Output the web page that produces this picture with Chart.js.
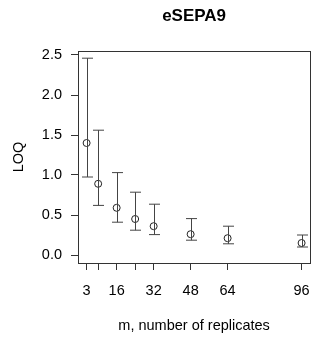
<!DOCTYPE html>
<html>
<head>
<meta charset="utf-8">
<script src="https://cdn.jsdelivr.net/npm/chart.js@4"></script>
<style>
  html, body { margin: 0; padding: 0; background: #fff; }
  #wrap { width: 322px; height: 339px; }
</style>
</head>
<body>
<div id="wrap"><canvas id="loq-chart" width="322" height="339"></canvas></div>
<script>
const replicates = [3, 8, 16, 24, 32, 48, 64, 96];
const loq = [1.40, 0.89, 0.59, 0.45, 0.36, 0.26, 0.21, 0.15];
const loqLower = [0.975, 0.62, 0.41, 0.31, 0.255, 0.185, 0.14, 0.10];
const loqUpper = [2.46, 1.56, 1.03, 0.785, 0.635, 0.455, 0.36, 0.25];
const xTicks = [3, 8, 16, 24, 32, 48, 64, 96];
const xTickLabels = ['3', '', '16', '', '32', '48', '64', '96'];
const yTicks = [0, 0.5, 1, 1.5, 2, 2.5];
const chartTitle = 'eSEPA9';

const fontFamily = '"Liberation Sans", Arial, Helvetica, sans-serif';
const ink = '#333';

// whiskers with caps, drawn through the chart's own scales
const errorBars = {
  id: 'errorBars',
  afterDatasetsDraw(chart) {
    const { ctx, scales: { x, y } } = chart;
    ctx.save();
    ctx.strokeStyle = '#444';
    ctx.lineWidth = 1;
    replicates.forEach((m, i) => {
      const px = Math.round(x.getPixelForValue(m)) + 0.5;
      const lo = y.getPixelForValue(loqLower[i]);
      const hi = y.getPixelForValue(loqUpper[i]);
      ctx.beginPath();
      ctx.moveTo(px, lo);
      ctx.lineTo(px, hi);
      ctx.moveTo(px - 5.5, hi);
      ctx.lineTo(px + 5.5, hi);
      ctx.moveTo(px - 5.5, lo);
      ctx.lineTo(px + 5.5, lo);
      ctx.stroke();
    });
    ctx.restore();
  },
};

// box round the plot and the title centred over the plot region (as R does)
const plotBox = {
  id: 'plotBox',
  afterDraw(chart) {
    const { ctx, chartArea: a } = chart;
    ctx.save();
    ctx.strokeStyle = ink;
    ctx.lineWidth = 1;
    ctx.strokeRect(Math.round(a.left) + 0.5, Math.round(a.top) + 0.5,
      Math.round(a.right - a.left), Math.round(a.bottom - a.top));
    ctx.fillStyle = '#000';
    ctx.font = `bold 17px ${fontFamily}`;
    ctx.textAlign = 'center';
    ctx.textBaseline = 'middle';
    ctx.fillText(chartTitle, (a.left + a.right) / 2, 16);
    ctx.restore();
  },
};

new Chart(document.getElementById('loq-chart'), {
  type: 'scatter',
  data: {
    datasets: [
      {
        label: 'LOQ',
        data: replicates.map((m, i) => ({ x: m, y: loq[i] })),
        pointStyle: 'circle',
        pointRadius: 3.5,
        borderColor: '#222',
        borderWidth: 1,
        backgroundColor: 'rgba(0,0,0,0)',
        showLine: false,
      },
    ],
  },
  options: {
    responsive: false,
    animation: false,
    layout: { padding: { left: 0, right: 9, top: 51, bottom: 0 } },
    plugins: {
      legend: { display: false },
      tooltip: { enabled: false },
      title: { display: false },
    },
    scales: {
      x: {
        type: 'linear',
        min: -0.72,
        max: 99.72,
        afterBuildTicks: scale => {
          scale.ticks = xTicks.map(v => ({ value: v }));
        },
        afterFit: scale => {
          scale.height = 76;
        },
        ticks: {
          autoSkip: false,
          maxRotation: 0,
          color: '#000',
          padding: 12,
          font: { family: fontFamily, size: 14.5 },
          callback: (value, index) => xTickLabels[index],
        },
        grid: { drawOnChartArea: false, drawTicks: true, tickLength: 7, tickColor: ink },
        border: { display: false },
        title: {
          display: true,
          text: 'm, number of replicates',
          color: '#000',
          font: { family: fontFamily, size: 14.5 },
          padding: { top: 0, bottom: 4 },
        },
      },
      y: {
        min: -0.1,
        max: 2.55,
        afterBuildTicks: scale => {
          scale.ticks = yTicks.map(v => ({ value: v }));
        },
        afterFit: scale => {
          scale.width = 78;
        },
        ticks: {
          color: '#000',
          padding: 9,
          font: { family: fontFamily, size: 14.5 },
          callback: value => value.toFixed(1),
        },
        grid: { drawOnChartArea: false, drawTicks: true, tickLength: 7, tickColor: ink },
        border: { display: false },
        title: {
          display: true,
          text: 'LOQ',
          color: '#000',
          font: { family: fontFamily, size: 14.5 },
          padding: { top: 10, bottom: 0 },
        },
      },
    },
  },
  plugins: [errorBars, plotBox],
});
</script>
</body>
</html>
